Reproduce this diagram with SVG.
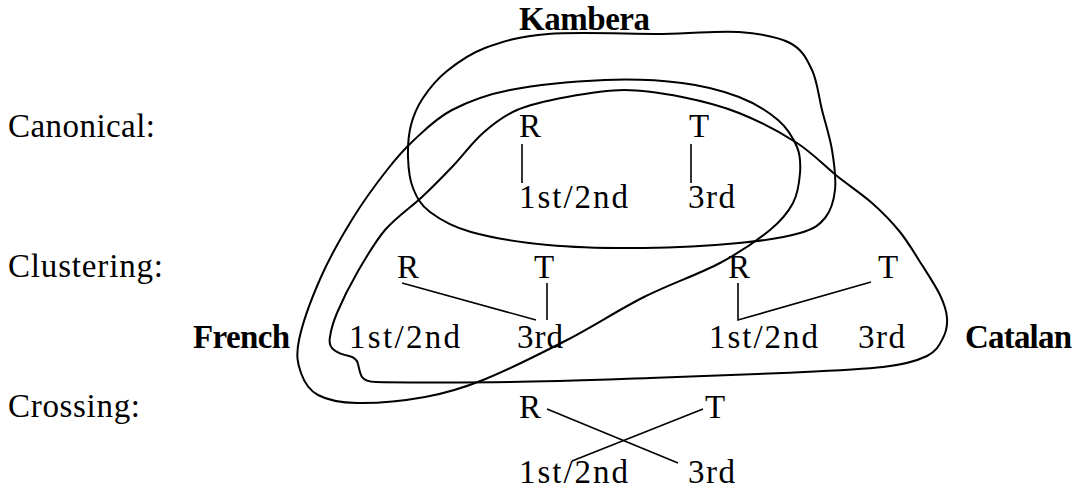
<svg xmlns="http://www.w3.org/2000/svg" width="1076" height="491" viewBox="0 0 1076 491">
<style>
text{font-family:"Liberation Serif","Times New Roman",serif;font-size:33px;fill:#000}
.b{font-weight:bold}
.ln{stroke:#000;stroke-width:1.6;fill:none}
.cv{stroke:#000;stroke-width:2;fill:none}
</style>
<rect width="1076" height="491" fill="#fff"/>
<g id="row-labels">
<text x="8" y="137" textLength="147">Canonical:</text>
<text x="8" y="277" textLength="155">Clustering:</text>
<text x="8" y="417" textLength="132">Crossing:</text>
</g>
<g id="kambera">
<path class="cv" d="M548,34 C577.7,31.5 631.2,34.2 663,34 C694.8,33.8 717.8,30.3 739,32 C760.2,33.7 777.8,36.7 790,43 C802.2,49.3 806.7,58.8 812,70 C817.3,81.2 818.7,96.7 822,110 C825.3,123.3 829.8,136.7 832,150 C834.2,163.3 836.2,178.7 835,190 C833.8,201.3 830.8,210.8 825,218 C819.2,225.2 814.3,228.8 800,233 C785.7,237.2 765,240.5 739,243 C713,245.5 675.8,247.7 644,248 C612.2,248.3 576.8,247.7 548,245 C519.2,242.3 490.7,237.5 471,232 C451.3,226.5 439.7,219.3 430,212 C420.3,204.7 416.7,197.2 413,188 C409.3,178.8 408.3,167.5 408,157 C407.7,146.5 408.5,134.8 411,125 C413.5,115.2 417,107 423,98 C429,89 436.7,79.3 447,71 C457.3,62.7 468.2,54.3 485,48 C501.8,41.7 518.3,36.5 548,34 Z"/>
<text class="b" x="519" y="30" textLength="131">Kambera</text>
</g>
<g id="french">
<path class="cv" d="M605,80 C633.7,78.8 659.7,80.2 682,83 C704.3,85.8 723,90.8 739,97 C755,103.2 768.3,111.7 778,120 C787.7,128.3 793.3,138.2 797,147 C800.7,155.8 800.7,163.7 800,173 C799.3,182.3 798,193.5 793,203 C788,212.5 782.2,220 770,230 C757.8,240 741,251.8 720,263 C699,274.2 669.5,284.2 644,297 C618.5,309.8 593.8,326.2 567,340 C540.2,353.8 506.7,370.5 483,380 C459.3,389.5 446,393.2 425,397 C404,400.8 374.8,403.3 357,403 C339.2,402.7 327.3,400 318,395 C308.7,390 304.2,382.2 301,373 C297.8,363.8 295.7,356 299,340 C302.3,324 312,297.3 321,277 C330,256.7 342,235.8 353,218 C364,200.2 376.8,183 387,170 C397.2,157 403.2,150 414,140 C424.8,130 436,118.3 452,110 C468,101.7 484.5,95 510,90 C535.5,85 576.3,81.2 605,80 Z"/>
<text class="b" x="193" y="348" textLength="97">French</text>
</g>
<g id="catalan">
<path class="cv" d="M624,90 C643.2,90 662.8,93.2 682,97 C701.2,100.8 719.8,105.3 739,113 C758.2,120.7 780.7,132.5 797,143 C813.3,153.5 824.5,166 837,176 C849.5,186 861.5,193.7 872,203 C882.5,212.3 891.7,221.7 900,232 C908.3,242.3 915.3,254.5 922,265 C928.7,275.5 935.8,286.2 940,295 C944.2,303.8 946.5,310.8 947,318 C947.5,325.2 946.3,331.7 943,338 C939.7,344.3 937,351.2 927,356 C917,360.8 907,364.2 883,367 C859,369.8 821.8,371.2 783,373 C744.2,374.8 695.5,376.5 650,378 C604.5,379.5 555.7,381.3 510,382 C464.3,382.7 390,382.5 376,382 C370,381.8 364,380 362,377 C360,374 359,368 358,364 C357,359 353,357 349,356 C344,355 338,353 334,350 C330,347 329,342 330,337 C331,329 332.5,323.7 337,313 C341.5,302.3 349,286.8 357,273 C365,259.2 374.2,242.7 385,230 C395.8,217.3 410.8,207.5 422,197 C433.2,186.5 441.8,177.7 452,167 C462.2,156.3 472.2,142.5 483,133 C493.8,123.5 503,116 517,110 C531,104 549.2,100.3 567,97 C584.8,93.7 604.8,90 624,90 Z"/>
<text class="b" x="965" y="348" textLength="107">Catalan</text>
</g>
<g id="canonical-tree">
<text x="519" y="137">R</text>
<text x="689" y="137">T</text>
<text x="519" y="208" textLength="109">1st/2nd</text>
<text x="688" y="208" textLength="47">3rd</text>
</g>
<g id="clustering-left">
<text x="397" y="278">R</text>
<text x="534" y="278">T</text>
<text x="349" y="348" textLength="111">1st/2nd</text>
<text x="517" y="348" textLength="46">3rd</text>
</g>
<g id="clustering-right">
<text x="728" y="278">R</text>
<text x="878" y="278">T</text>
<text x="709" y="348" textLength="109">1st/2nd</text>
<text x="858" y="348" textLength="47">3rd</text>
</g>
<g id="crossing-tree">
<text x="519" y="418">R</text>
<text x="705" y="418">T</text>
<text x="519" y="483" textLength="109">1st/2nd</text>
<text x="688" y="483" textLength="47">3rd</text>
</g>
<g id="connectors">
<line class="ln" x1="522" y1="144" x2="522" y2="183"/>
<line class="ln" x1="691" y1="144" x2="691" y2="183"/>
<line class="ln" x1="402" y1="283" x2="536" y2="320"/>
<line class="ln" x1="547" y1="283" x2="547" y2="320"/>
<polyline class="ln" points="738,283 738,320 871,282"/>
<line class="ln" x1="547" y1="409" x2="678" y2="463"/>
<line class="ln" x1="703" y1="409" x2="572" y2="461"/>
</g>
</svg>
